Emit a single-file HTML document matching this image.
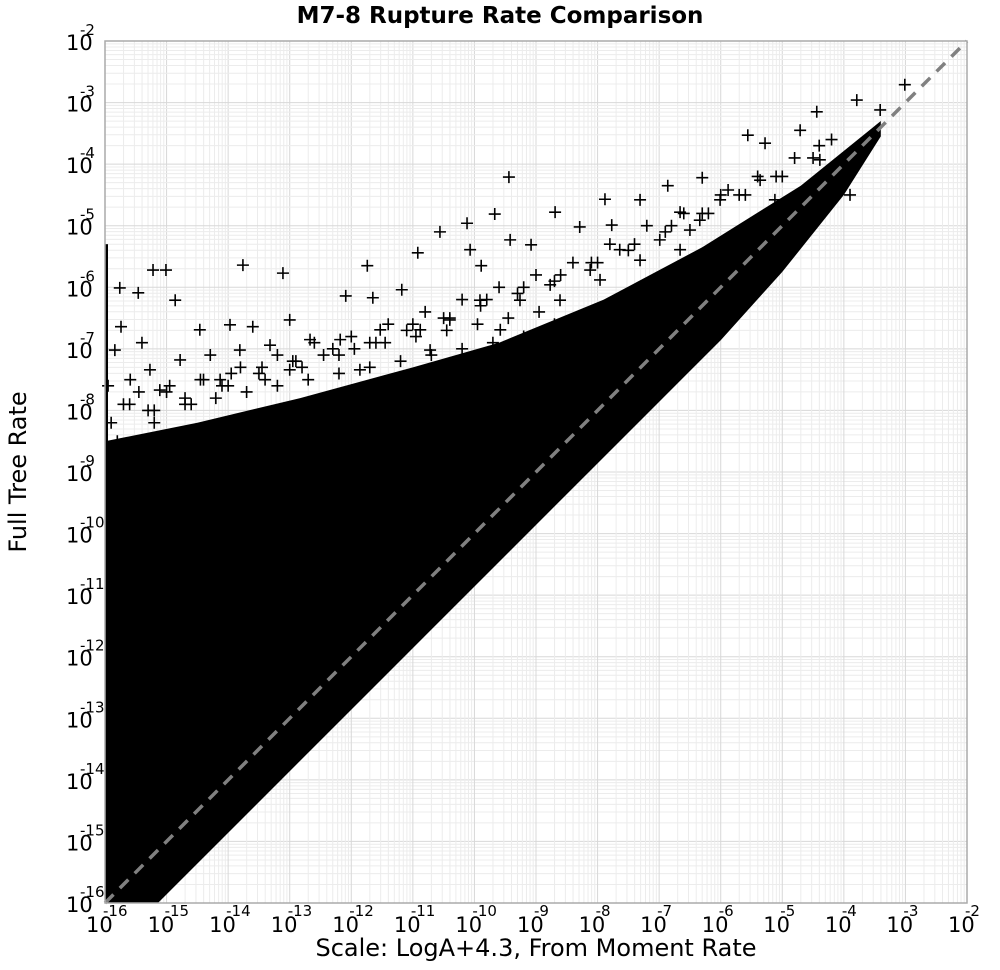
<!DOCTYPE html>
<html><head><meta charset="utf-8"><style>
body{margin:0;background:#fff;}
svg text{font-family:"DejaVu Sans","Liberation Sans",sans-serif;}
</style></head><body>
<svg id="chart" width="1000" height="965" xmlns="http://www.w3.org/2000/svg">
<text x="500" y="23" text-anchor="middle" font-size="23" font-weight="bold">M7-8 Rupture Rate Comparison</text>
<text x="536" y="956" text-anchor="middle" font-size="24">Scale: LogA+4.3, From Moment Rate</text>
<text transform="translate(26,472) rotate(-90)" text-anchor="middle" font-size="24">Full Tree Rate</text>
<g id="grid"></g><g id="dense"></g><g id="pts"></g><g id="axes"></g>
</svg>
<script>
const decades=[-16,-15,-14,-13,-12,-11,-10,-9,-8,-7,-6,-5,-4,-3,-2];
const envX=[-16,-14.5,-12.83,-11,-9.6,-7.9,-6.3,-4.7,-3.4];
const envUpper=[-8.5,-8.2,-7.8,-7.3,-6.9,-6.2,-5.35,-4.35,-3.3];
const lowX=[-3.4,-4.0,-5.0,-6.0,-15.14];
const lowY=[-3.55,-4.5,-5.75,-6.86,-16];
const ptX=[-15.76,-15.46,-15.22,-15.01,-13.76,-13.11,-11.74,-14.86,-13.97,-15.74,-15.40,-14.46,-13.60,-13.0,-12.09,-11.65,-11.18,-10.92,-10.56,-10.12,-9.67,-10.07,-9.89,-9.42,-9.08,-8.69,-9.44,-7.88,-7.77,-8.29,-7.31,-6.86,-6.66,-6.30,-5.56,-5.28,-5.12,-4.71,-4.44,-3.79,-3.01,-3.90,-3.41,-4.39,-5.36,-5.88,-6.34,-6.99,-7.64,-8.12,-8.77,-9.26,-9.91,-10.40,-10.88,-11.53,-12.18,-12.67,-13.32,-13.81,-14.29,-14.78,-15.27,-15.59,-15.84,-8.61,-7.96,-7.31,-6.50,-6.01,-5.69,-6.66,-9.58,-10.72,-11.86,-13.0,-14.13,-15.11,
-15.9,-15.6,-15.3,-15.0,-14.7,-14.4,-14.1,-13.8,-13.5,-13.2,-12.9,-12.6,-12.3,-12.0,-11.7,-11.4,-11.1,-10.8,-10.5,-10.2,-9.9,-9.6,-9.3,-9.0,-8.7,-8.4,-8.1,-7.8,-7.5,-7.2,-6.9,-6.6,-6.3,-6.0,-5.7,-5.4,-5.1,-4.8,-4.5,-4.2,
-15.8,-15.2,-14.6,-14.0,-13.4,-12.8,-12.2,-11.6,-11.0,-10.4,-9.8,-9.2,-8.6,-8.0,-7.4,-6.8,-6.2,-5.6,-5.0,-4.4,
-15.95,-15.7,-15.45,-15.2,-14.95,-14.7,-14.45,-14.2,-13.95,-13.7,-13.45,-13.2,-12.95,-12.7,-12.45,-12.2,-11.95,-11.7,-11.45,-11.2,-10.95,-10.7,-10.45,-10.2,-9.95,-9.7,-9.45,-9.2,-8.95,-8.7];
const ptY=[-6.01,-6.09,-5.72,-5.72,-5.64,-5.77,-5.65,-6.21,-6.61,-6.64,-6.90,-6.69,-6.64,-6.53,-6.14,-6.17,-6.04,-5.44,-5.10,-4.96,-4.81,-5.39,-5.65,-5.23,-5.31,-4.78,-4.21,-4.57,-4.99,-5.02,-4.58,-4.35,-4.78,-4.22,-3.53,-3.66,-4.58,-3.45,-3.15,-2.96,-2.71,-4.50,-3.12,-3.93,-4.26,-4.42,-4.91,-5.23,-5.39,-5.72,-5.96,-6.21,-6.21,-6.53,-6.69,-6.69,-6.85,-6.85,-6.94,-7.02,-7.10,-7.18,-7.34,-7.50,-7.02,-6.21,-5.88,-5.56,-5.07,-4.58,-5.23,-5.39,-6.69,-7.02,-7.34,-7.34,-7.50,-7.67,
-8.2,-7.9,-8.0,-7.7,-7.8,-7.5,-7.6,-7.3,-7.4,-7.1,-7.2,-6.9,-7.0,-6.8,-6.9,-6.6,-6.7,-6.4,-6.5,-6.2,-6.3,-6.0,-6.1,-5.8,-5.9,-5.6,-5.6,-5.3,-5.4,-5.0,-5.1,-4.8,-4.8,-4.5,-4.5,-4.2,-4.2,-3.9,-3.9,-3.6,
-8.5,-8.2,-7.9,-7.6,-7.5,-7.3,-7.1,-6.9,-6.6,-6.5,-6.2,-6.0,-5.8,-5.6,-5.3,-5.0,-4.8,-4.5,-4.2,-3.7,
-7.6,-7.9,-7.7,-8.0,-7.6,-7.9,-7.5,-7.8,-7.4,-7.7,-7.3,-7.6,-7.2,-7.5,-7.1,-7.4,-7.0,-7.3,-6.9,-7.2,-6.8,-7.1,-6.7,-7.0,-6.6,-6.9,-6.5,-6.8,-6.4,-6.6];
const L=105,R=967,T=41,B=903,D=(R-L)/14;
const X=e=>L+(e+16)*D, Y=e=>B-(e+16)*D;
const NS='http://www.w3.org/2000/svg';
function mk(t,a,p){const el=document.createElementNS(NS,t);for(const k in a)el.setAttribute(k,a[k]);p.appendChild(el);return el;}
const grid=document.getElementById('grid');
mk('rect',{x:L,y:T,width:R-L,height:B-T,fill:'#fff'},grid);
for(let d=-16;d<-2;d++){for(let m=1;m<10;m++){const e=d+Math.log10(m);
 const c=m===1?'#d8d8d8':'#ececec';
 const gv=mk('line',{x1:X(e),x2:X(e),y1:T,y2:B,stroke:c,'stroke-width':1},grid);
 
 
 const gh=mk('line',{x1:L,x2:R,y1:Y(e),y2:Y(e),stroke:c,'stroke-width':1},grid);
 
 }}
const dense=document.getElementById('dense');
let pts=[];envX.forEach((x,i)=>pts.push(X(x)+','+Math.max(T,Y(envUpper[i]))));
lowX.forEach((x,i)=>pts.push(X(x)+','+Y(lowY[i])));
pts.push(L+','+B);
const poly=mk('polygon',{points:pts.join(' '),fill:'#000'},dense);


const strip=mk('rect',{x:L,y:Y(-5.3),width:3,height:B-Y(-5.3),fill:'#000'},dense);


const pg=document.getElementById('pts');
ptX.forEach((x,i)=>{const cx=X(x),cy=Y(ptY[i]);
 const p=mk('path',{d:`M${cx-6},${cy}H${cx+6}M${cx},${cy-6}V${cy+6}`,stroke:'#000','stroke-width':1.6},pg);
 
 });
const dl=mk('line',{x1:X(-16),y1:Y(-16),x2:X(-2),y2:Y(-2),stroke:'#808080','stroke-width':3.5,'stroke-dasharray':'12,9'},pg);


const ax=document.getElementById('axes');
const fr=mk('rect',{x:L,y:T,width:R-L,height:B-T,fill:'none',stroke:'#aaa','stroke-width':1.5},ax);


decades.forEach(d=>{
 const tx=mk('text',{x:X(d)-19,y:932,'font-size':21},ax);tx.textContent='10';
 
 
 const sx=mk('text',{x:X(d)-2,y:916,'font-size':15},ax);sx.textContent=String(d);
 
 
 const ty=mk('text',{x:66,y:Y(d)+9,'font-size':21},ax);ty.textContent='10';
 
 
 const sy=mk('text',{x:80,y:Y(d)-6,'font-size':15},ax);sy.textContent=String(d);
 
 
});
</script>
</body></html>
